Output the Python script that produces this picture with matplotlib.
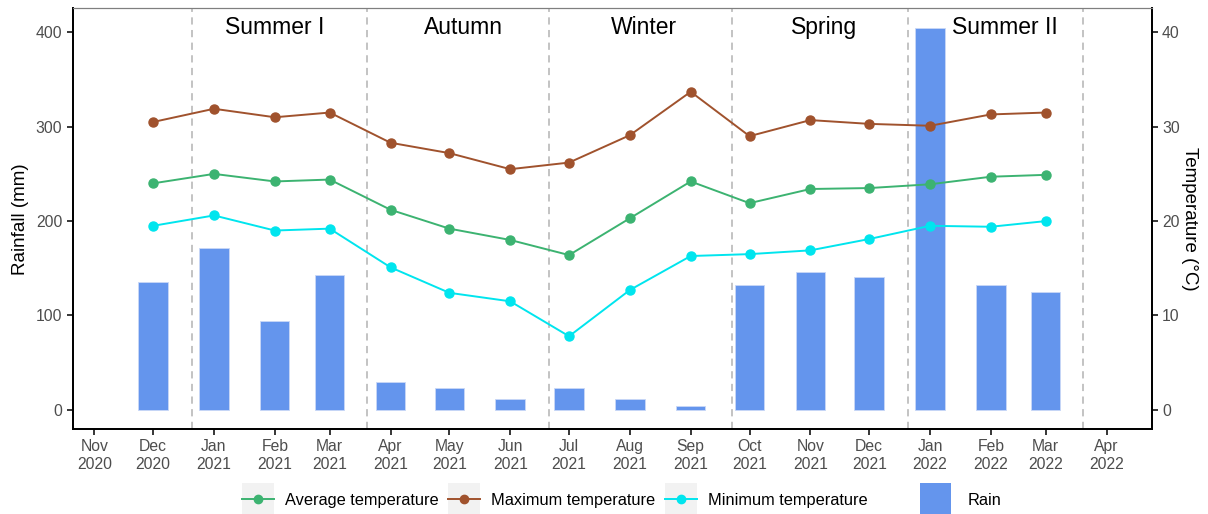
import numpy as np
import pandas as pd
import matplotlib
matplotlib.use("Agg")
import matplotlib.pyplot as plt
from matplotlib.lines import Line2D
from matplotlib.patches import Rectangle, Patch
from matplotlib.legend_handler import HandlerLine2D, HandlerPatch

plt.rcParams["font.family"] = ["Liberation Sans", "DejaVu Sans"]

# monthly series, Dec 2020 - Mar 2022
months = pd.date_range("2020-12-01", "2022-03-01", freq="MS")
rain = [136, 172, 94, 143, 30, 23, 12, 23, 12, 4, 132, 146, 141, 405, 132, 125]
t_max = [30.5, 31.9, 31.0, 31.5, 28.3, 27.2, 25.5, 26.2, 29.1, 33.7, 29.0, 30.7, 30.3, 30.1, 31.3, 31.5]
t_avg = [24.0, 25.0, 24.2, 24.4, 21.2, 19.2, 18.0, 16.4, 20.3, 24.2, 21.9, 23.4, 23.5, 23.9, 24.7, 24.9]
t_min = [19.5, 20.6, 19.0, 19.2, 15.1, 12.4, 11.5, 7.8, 12.7, 16.3, 16.5, 16.9, 18.1, 19.5, 19.4, 20.0]

# solstices / equinoxes separating the seasons
season_breaks = pd.to_datetime(["2020-12-21", "2021-03-20", "2021-06-21",
                                "2021-09-22", "2021-12-21", "2022-03-20"])
season_names = ["Summer I", "Autumn", "Winter", "Spring", "Summer II"]
season_label_dates = pd.to_datetime(["2021-02-01", "2021-05-08", "2021-08-08",
                                     "2021-11-08", "2022-02-08"])

tick_months = pd.date_range("2020-11-01", "2022-04-01", freq="MS")

C_AVG = "#3CB371"
C_MAX = "#A0522D"
C_MIN = "#00E5EE"
C_RAIN = "#6495ED"
GREY_TXT = "#4D4D4D"

fig = plt.figure(figsize=(12.08, 5.14), dpi=100)
ax = fig.add_axes([0.0602, 0.1654, 0.8932, 0.8181])

ax.bar(months, rain, width=15, color=C_RAIN, edgecolor="#C9D8F7", linewidth=0.6, zorder=2)

for d in season_breaks:
    ax.axvline(d, color="#BEBEBE", linestyle=(0, (4, 3)), linewidth=1.3, zorder=1)

for d, name in zip(season_label_dates, season_names):
    ax.text(d, 405, name, ha="center", va="center", fontsize=16.5, color="black", zorder=5)

ax.set_xlim(pd.Timestamp("2020-10-21"), pd.Timestamp("2022-04-24"))
ax.set_ylim(-20.25, 425.25)
ax.set_yticks([0, 100, 200, 300, 400])
ax.set_xticks(tick_months)
ax.set_xticklabels([d.strftime("%b\n%Y") for d in tick_months])
ax.set_ylabel("Rainfall (mm)", fontsize=13.5, labelpad=5)

ax2 = ax.twinx()
ax2.set_ylim(-2.025, 42.525)
ax2.set_yticks([0, 10, 20, 30, 40])
ax2.set_ylabel("Temperature (°C)", fontsize=13.5, rotation=270, labelpad=13)

series = [(t_avg, C_AVG, "Average temperature"),
          (t_max, C_MAX, "Maximum temperature"),
          (t_min, C_MIN, "Minimum temperature")]
for vals, col, lab in series:
    ax2.plot(months, vals, color=col, linewidth=1.4, marker="o", markersize=6.5, zorder=4)

for a in (ax, ax2):
    a.tick_params(axis="both", colors="black", labelcolor=GREY_TXT, labelsize=11.3,
                  length=4, width=1.1, direction="out")
    for s in ("left", "bottom", "right"):
        a.spines[s].set_linewidth(1.3)
        a.spines[s].set_color("black")
    a.spines["top"].set_color("#7F7F7F")
    a.spines["top"].set_linewidth(0.8)
    a.set_facecolor("none")
ax.patch.set_facecolor("white")


class KeyBgLine(HandlerLine2D):
    # grey key background behind the line+point glyph
    def create_artists(self, legend, orig_handle, xdescent, ydescent, width, height, fontsize, trans):
        bg = Rectangle((-xdescent, -ydescent - 0.85 * height), width, 2.7 * height,
                       facecolor="#F2F2F2", edgecolor="none", transform=trans)
        arts = super().create_artists(legend, orig_handle, xdescent, ydescent,
                                      width, height, fontsize, trans)
        return [bg] + list(arts)


class KeyRain(HandlerPatch):
    def create_artists(self, legend, orig_handle, xdescent, ydescent, width, height, fontsize, trans):
        r = Rectangle((-xdescent, -ydescent - 0.85 * height), width, 2.7 * height,
                      facecolor=C_RAIN, edgecolor="none", transform=trans)
        return [r]


line_handles = [Line2D([], [], color=col, linewidth=1.4, marker="o", markersize=6)
                for _, col, _ in series]
leg1 = fig.legend(line_handles, [lab for _, _, lab in series], loc="center",
                  bbox_to_anchor=(0.4594, 0.027), ncol=3, frameon=False, fontsize=11.8,
                  handlelength=1.95, handletextpad=0.67, columnspacing=0.6,
                  handler_map={Line2D: KeyBgLine()})
leg2 = fig.legend([Patch(color=C_RAIN)], ["Rain"], loc="center",
                  bbox_to_anchor=(0.795, 0.027), frameon=False, fontsize=11.8,
                  handlelength=1.9, handletextpad=1.0,
                  handler_map={Patch: KeyRain()})

fig.savefig("out.png", dpi=100, facecolor="white")
